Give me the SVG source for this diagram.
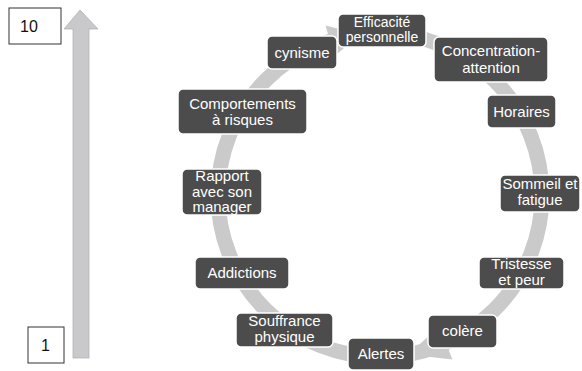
<svg xmlns="http://www.w3.org/2000/svg" width="582" height="371" viewBox="0 0 582 371">
<style>
.n rect{fill:#4c4c4c;stroke:#ffffff;stroke-width:1.5}
.n text{fill:#ffffff;font-family:"Liberation Sans",Arial,sans-serif;font-size:15px;text-anchor:middle}
.sc rect{fill:#ffffff;stroke:#333333;stroke-width:1}
.sc text{fill:#111111;font-family:"Liberation Sans",Arial,sans-serif;font-size:16px;text-anchor:middle}
.ring{fill:none;stroke:#cacaca;stroke-width:15}
.head{fill:#cacaca}
</style>
<g id="scale">
<polygon points="80,10 98,29 89,29 89,358 73,358 73,29 64,29" fill="#c9c9cc" stroke="#b4b4b8" stroke-width="0.8"/>
<g class="sc" id="s10"><rect x="9" y="8" width="52" height="36"/><text x="29" y="31.5">10</text></g>
<g class="sc" id="s1"><rect x="28" y="327" width="36" height="36"/><text x="45.5" y="350.5">1</text></g>
</g>
<g id="connectors">
<circle class="ring" cx="380" cy="195" r="162"/>
<polygon class="head" points="325.6,25.6 334.3,56.3 360.3,34.2"/>
<polygon class="head" points="452.4,359.6 439.4,326.4 408.1,354.5"/>
</g>
<g class="n" id="eff"><rect x="338" y="14" width="88" height="33" rx="5"/><text x="382" y="26.5" style="font-size:14px">Efficacité</text><text x="382" y="42" style="font-size:14px">personnelle</text></g>
<g class="n" id="cyn"><rect x="267" y="36" width="70" height="33" rx="5"/><text x="302" y="58">cynisme</text></g>
<g class="n" id="conc"><rect x="434" y="37" width="114" height="45" rx="5"/><text x="491" y="56">Concentration-</text><text x="491" y="73">attention</text></g>
<g class="n" id="hor"><rect x="487" y="95" width="69" height="33" rx="5"/><text x="521.5" y="117">Horaires</text></g>
<g class="n" id="comp"><rect x="178" y="89" width="129" height="45" rx="5"/><text x="242.5" y="109">Comportements</text><text x="242.5" y="125">à risques</text></g>
<g class="n" id="rap"><rect x="182" y="169" width="80" height="46" rx="5"/><text x="222" y="181">Rapport</text><text x="222" y="196.5">avec son</text><text x="222" y="212">manager</text></g>
<g class="n" id="som"><rect x="500" y="175" width="80" height="37" rx="5"/><text x="540" y="189">Sommeil et</text><text x="540" y="205">fatigue</text></g>
<g class="n" id="tri"><rect x="479" y="257" width="85" height="32" rx="5"/><text x="521.5" y="269">Tristesse</text><text x="521.5" y="285">et peur</text></g>
<g class="n" id="add"><rect x="195" y="257" width="94" height="32" rx="5"/><text x="242" y="278">Addictions</text></g>
<g class="n" id="souf"><rect x="236" y="313" width="97" height="34" rx="5"/><text x="284.5" y="326">Souffrance</text><text x="284.5" y="342">physique</text></g>
<g class="n" id="ale"><rect x="348" y="338" width="66" height="32" rx="5"/><text x="381" y="359">Alertes</text></g>
<g class="n" id="col"><rect x="428" y="315" width="69" height="33" rx="5"/><text x="462.5" y="336">colère</text></g>
</svg>
